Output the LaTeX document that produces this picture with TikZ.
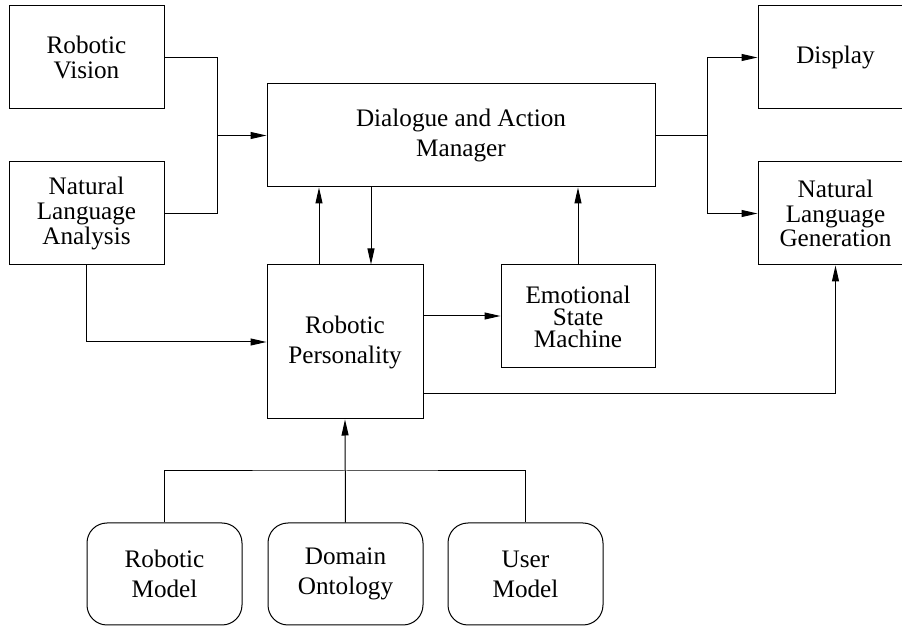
\documentclass[tikz,border=0pt]{standalone}
\usepackage{fontspec}
\setmainfont{Liberation Serif}
\usetikzlibrary{positioning, shapes, arrows.meta, calc}

\tikzset{
  block/.style={draw, rectangle, align=center, inner sep=0pt,
    minimum width=77.5pt, minimum height=51.5pt,
    font=\fontsize{12.6}{15}\selectfont},
  tight/.style={font=\fontsize{12.6}{12.3}\selectfont},
  store/.style={block, rounded corners=10pt, minimum height=51pt},
  link/.style={-{Triangle[length=8pt,width=3.5pt]}},
}

\begin{document}
\begin{tikzpicture}[x=0.5pt, y=-0.5pt, line width=0.5pt]
  \useasboundingbox (0,0) rectangle (902,626);
  % input side
  \node[block, tight] (vision) at (86.5,57.5) {Robotic\\Vision};
  \node[block, tight] (nla) at (86.5,213.5) {Natural\\Language\\Analysis};
  % core
  \node[block, minimum width=194pt] (dam) at (461,135.5) {Dialogue and Action\\Manager};
  \node[block, minimum width=78pt, minimum height=77pt] (pers) at (345,342) {Robotic\\Personality};
  \node[block, minimum width=77pt, font=\fontsize{12.6}{11}\selectfont] (esm) at (578,316.5) {Emotional\\State\\Machine};
  % output side
  \node[block] (display) at (835.5,57.5) {Display};
  \node[block, tight] (nlg) at (835.5,213.5) {Natural\\Language\\Generation};
  % knowledge sources
  \node[store] (rmodel) at (164.5,574) {Robotic\\Model};
  \node[store] (onto) at (345.5,574) {Domain\\Ontology};
  \node[store] (umodel) at (525.5,574) {User\\Model};

  \coordinate (jin) at (217,135.5);
  \coordinate (jout) at (707,135.5);
  \coordinate (bus) at (345.5,471);

  \draw (vision.east) -| (jin);
  \draw (nla.east) -| (jin);
  \draw[link] (jin) -- (dam.west);
  \draw (dam.east) -- (jout);
  \draw[link] (jout) |- (display.west);
  \draw[link] (jout) |- (nlg.west);
  \draw[link] ([xshift=-13pt]pers.north) -- ([xshift=-13pt]pers.north |- dam.south);
  \draw[link] ([xshift=13pt]pers.north |- dam.south) -- ([xshift=13pt]pers.north);
  \draw[link] (esm.north) -- (esm.north |- dam.south);
  \draw[link] ([yshift=13pt]pers.east) -- ([yshift=13pt]pers.east -| esm.west);
  \draw[link] (nla.south) |- (pers.west);
  \draw[link] ([yshift=-26pt]pers.east) -| (nlg.south);
  \draw (rmodel.north) |- (bus) -| (umodel.north);
  \draw[link] (onto.north) -- (pers.south);
\end{tikzpicture}
\end{document}
